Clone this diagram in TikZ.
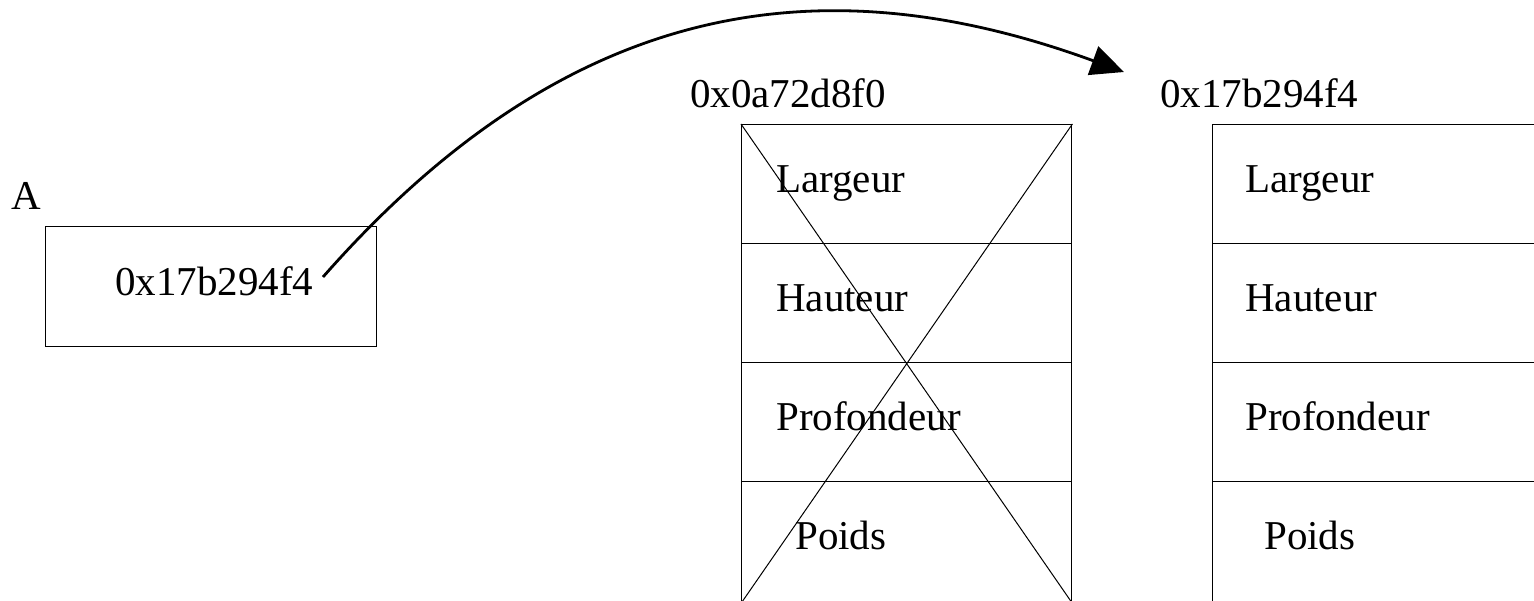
\documentclass[tikz,border=0pt]{standalone}
\usepackage{fontspec}
\setmainfont{Liberation Serif}
\usetikzlibrary{arrows.meta}
\begin{document}
\begin{tikzpicture}[x=1pt,y=-1pt,
  lbl/.style={font=\fontsize{41}{49}\selectfont, inner sep=0pt, anchor=base west},
  cellbox/.style={draw, line width=1.4pt, inner sep=0pt, anchor=north west, minimum height=119pt},
  midcell/.style={cellbox, minimum width=330pt},
  rightcell/.style={cellbox, minimum width=335pt},
  lastcell/.style={minimum height=121pt},
  crossline/.style={line width=1pt},
  pointer/.style={line width=2.8pt, -{Triangle[length=33pt,width=30pt]}}]
\useasboundingbox (0,0) rectangle (1534,600);
% cut-off brackets at the top edge
\node[lbl] (lpar) at (190,-31) {(};
\node[lbl] (rpar) at (1207,-31) {)};
% variable A
\node[lbl] (aname) at (11,209) {A};
\node[draw, line width=1.2pt, anchor=north west, minimum width=331pt, minimum height=120pt, inner sep=0pt] (abox) at (45,226) {};
\node[lbl] (aval) at (115,295) {0x17b294f4};
% old object (crossed out)
\node[lbl] (oldaddr) at (690,107) {0x0a72d8f0};
\node[midcell] (m1) at (741,124) {};
\node[midcell] (m2) at (741,243) {};
\node[midcell] (m3) at (741,362) {};
\node[midcell, lastcell] (m4) at (741,481) {};
\node[lbl] (m1t) at (776,192) {Largeur};
\node[lbl] (m2t) at (776,311) {Hauteur};
\node[lbl] (m3t) at (776,430) {Profondeur};
\node[lbl] (m4t) at (795,549) {Poids};
\draw[crossline] (m1.north west) -- (m4.south east);
\draw[crossline] (m1.north east) -- (m4.south west);
% new object
\node[lbl] (newaddr) at (1160,107) {0x17b294f4};
\node[rightcell] (r1) at (1212,124) {};
\node[rightcell] (r2) at (1212,243) {};
\node[rightcell] (r3) at (1212,362) {};
\node[rightcell, lastcell] (r4) at (1212,481) {};
\node[lbl] (r1t) at (1245,192) {Largeur};
\node[lbl] (r2t) at (1245,311) {Hauteur};
\node[lbl] (r3t) at (1245,430) {Profondeur};
\node[lbl] (r4t) at (1264,549) {Poids};
% pointer arrow
\coordinate (src) at (323,277);
\coordinate (dst) at (1124,72);
\draw[pointer] (src) .. controls (565,2) and (816.5,-40.5) .. (dst);
\end{tikzpicture}
\end{document}
